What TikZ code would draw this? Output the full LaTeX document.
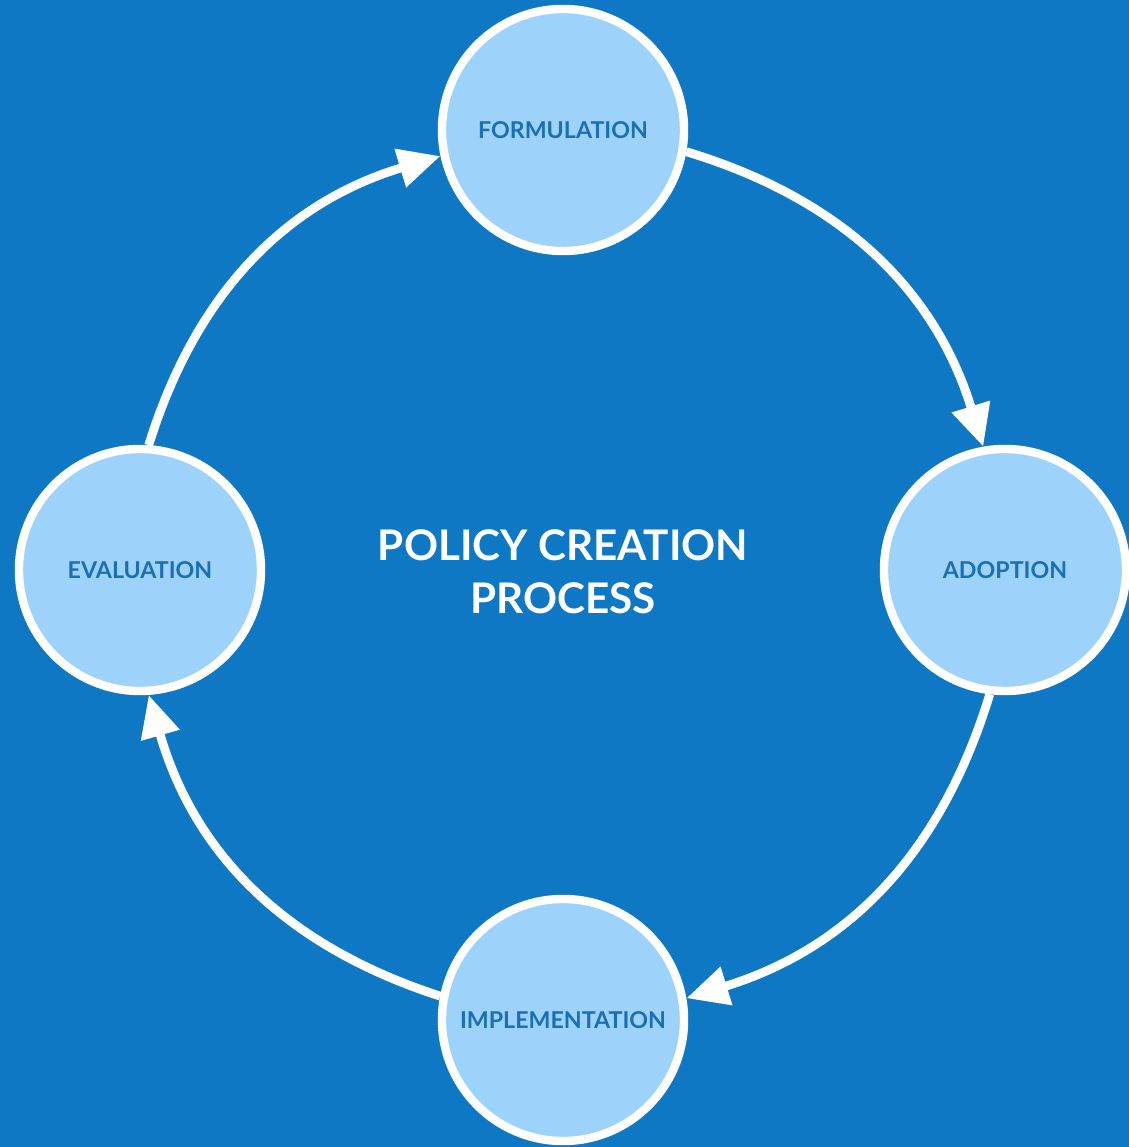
\documentclass[tikz,border=0pt]{standalone}
\usepackage{fontspec}
\setmainfont{Lato}
\usepackage{tikz}
\usetikzlibrary{arrows.meta}

\definecolor{bgblue}{RGB}{14,120,196}
\definecolor{stagefill}{RGB}{157,211,251}
\definecolor{stagetext}{RGB}{26,111,181}

\begin{document}
\begin{tikzpicture}[x = 0.025cm, y = 0.025cm,
                        stage/.style = {circle, draw = white, fill = stagefill, line width = 0.21cm,
                                        minimum size = 6.05cm, inner sep = 0pt,
                                        text = stagetext, font = \fontsize{16.5}{19}\selectfont\bfseries},
                        flow/.style = {draw = white, line width = 0.22cm,
                                       -{Triangle[length = 1.05cm, width = 0.95cm]}},
                        title/.style = {text = white, align = center,
                                        font = \fontsize{30}{37.6}\selectfont\bfseries}]
      \clip (0, 0) rectangle (1129, 1147);
      \fill [bgblue] (0, 0) rectangle (1129, 1147);
      \node [stage] (form) at (563, 1017){FORMULATION};
      \node [stage] (adopt) at (1005, 577){ADOPTION};
      \node [stage] (impl) at (563, 127){IMPLEMENTATION};
      \node [stage] (eval) at (140, 577){EVALUATION};
      \node [title] (main) at (563, 575){POLICY CREATION\\PROCESS};
      \draw [flow] (form.-10) to [bend left = 28] (adopt.100);
      \draw [flow] (adopt.-97) to [bend left = 28] (impl.10);
      \draw [flow] (impl.169) to [bend left = 28] (eval.-86);
      \draw [flow] (eval.86) to [bend left = 28] (form.192);
    \end{tikzpicture}
\end{document}
